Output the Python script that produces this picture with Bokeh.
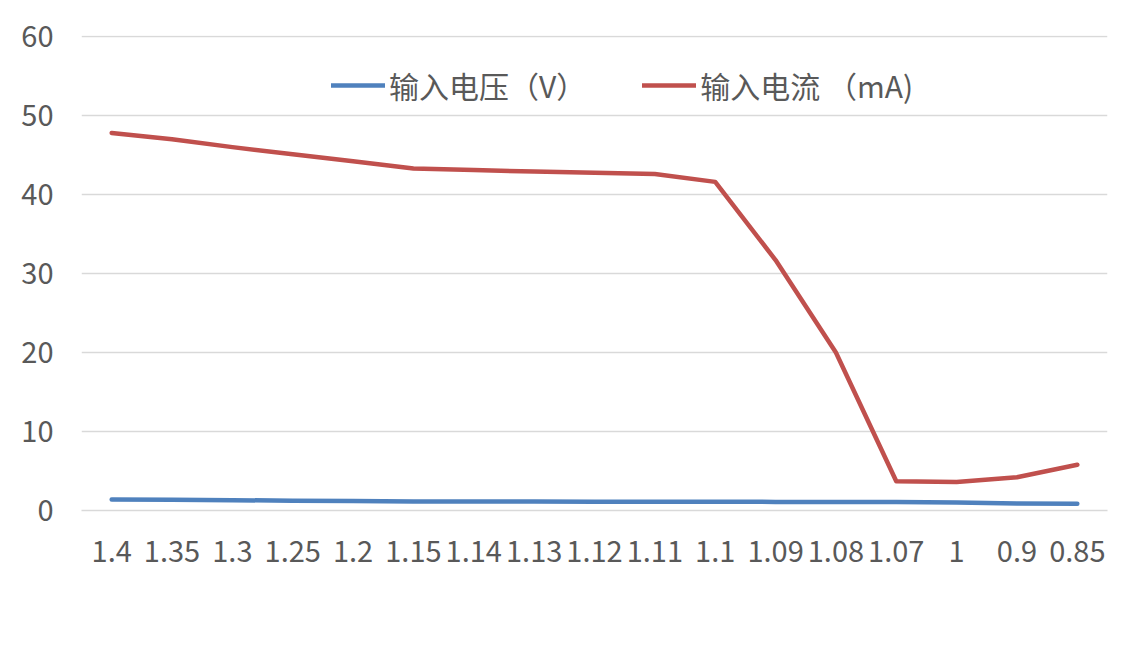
from bokeh.plotting import figure
from bokeh.embed import file_html
from bokeh.resources import INLINE
from bokeh.models import Legend, LegendItem, SingleIntervalTicker, Range1d

categories = ["1.4", "1.35", "1.3", "1.25", "1.2", "1.15", "1.14", "1.13", "1.12",
              "1.11", "1.1", "1.09", "1.08", "1.07", "1", "0.9", "0.85"]
voltage = [1.4, 1.35, 1.3, 1.25, 1.2, 1.15, 1.14, 1.13, 1.12,
           1.11, 1.1, 1.09, 1.08, 1.07, 1.0, 0.9, 0.85]
current = [47.8, 47.0, 46.0, 45.1, 44.2, 43.3, 43.1, 42.9, 42.75,
           42.6, 41.6, 31.7, 20.0, 3.7, 3.6, 4.2, 5.8]

FONT = "Noto Sans CJK SC"
TXT = "#595959"
GRID = "#d9d9d9"

p = figure(width=1117, height=646, x_range=categories, y_range=Range1d(0, 60.13),
           output_backend="svg", toolbar_location=None,
           min_border_left=81, min_border_right=10, min_border_top=35,
           min_border_bottom=136)
p.outline_line_color = None
p.background_fill_color = "white"
p.border_fill_color = "white"

r1 = p.line(categories, voltage, line_color="#4F81BD", line_width=4.5,
            line_cap="round", line_join="round")
r2 = p.line(categories, current, line_color="#C0504D", line_width=4.5,
            line_cap="round", line_join="round")

p.xgrid.grid_line_color = None
p.ygrid.grid_line_color = GRID
p.ygrid.grid_line_width = 1.5
p.yaxis.ticker = SingleIntervalTicker(interval=10)

p.yaxis.axis_line_color = None
p.yaxis.major_tick_line_color = None
p.yaxis.minor_tick_line_color = None
p.yaxis.major_label_standoff = 22
p.xaxis.axis_line_color = GRID
p.xaxis.axis_line_width = 1.5
p.xaxis.major_tick_line_color = None
p.xaxis.major_label_standoff = 24
for ax in (p.xaxis[0], p.yaxis[0]):
    ax.major_label_text_font = FONT
    ax.major_label_text_font_size = "29px"
    ax.major_label_text_color = TXT

legend = Legend(items=[LegendItem(label="输入电压（V）", renderers=[r1]),
                       LegendItem(label="输入电流 （mA)", renderers=[r2])],
                orientation="horizontal", location=(250, 403),
                label_text_font=FONT, label_text_font_size="30px",
                label_text_color=TXT, glyph_width=54, label_standoff=4,
                spacing=56, padding=0, margin=0, border_line_color=None,
                background_fill_alpha=0)
p.add_layout(legend)

open("out.html", "w").write(file_html(p, INLINE))
